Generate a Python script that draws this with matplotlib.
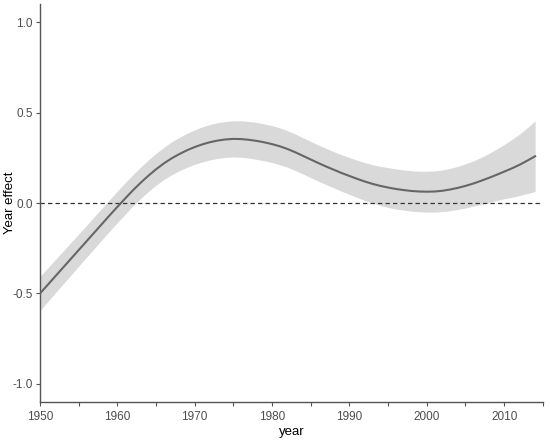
import matplotlib
matplotlib.use("Agg")
import matplotlib.pyplot as plt
from matplotlib.ticker import MultipleLocator

plt.rcParams['font.family'] = ['Liberation Sans', 'DejaVu Sans']

years = list(range(1950, 2015))
fit = [-0.500, -0.452, -0.404, -0.356, -0.308, -0.260, -0.212, -0.164, -0.116, -0.068,
       -0.021, 0.025, 0.070, 0.112, 0.151, 0.187, 0.219, 0.247, 0.271, 0.292,
       0.310, 0.325, 0.337, 0.346, 0.352, 0.355, 0.354, 0.350, 0.344, 0.336,
       0.326, 0.314, 0.299, 0.281, 0.261, 0.241, 0.221, 0.202, 0.184, 0.166,
       0.150, 0.134, 0.119, 0.106, 0.095, 0.086, 0.078, 0.072, 0.067, 0.064,
       0.063, 0.064, 0.068, 0.075, 0.084, 0.095, 0.108, 0.123, 0.139, 0.156,
       0.174, 0.192, 0.212, 0.235, 0.259]
lower = [-0.595, -0.545, -0.496, -0.447, -0.398, -0.349, -0.300, -0.252, -0.203, -0.155,
         -0.108, -0.062, -0.017, 0.025, 0.064, 0.099, 0.130, 0.156, 0.179, 0.198,
         0.215, 0.228, 0.239, 0.247, 0.253, 0.255, 0.253, 0.249, 0.242, 0.234,
         0.224, 0.212, 0.198, 0.180, 0.161, 0.141, 0.121, 0.102, 0.084, 0.065,
         0.048, 0.031, 0.014, 0.000, -0.013, -0.024, -0.033, -0.039, -0.045, -0.048,
         -0.050, -0.050, -0.047, -0.042, -0.035, -0.027, -0.017, -0.006, 0.004, 0.014,
         0.024, 0.032, 0.042, 0.053, 0.064]
upper = [-0.405, -0.359, -0.312, -0.265, -0.218, -0.171, -0.124, -0.076, -0.029, 0.019,
         0.066, 0.112, 0.157, 0.199, 0.238, 0.275, 0.308, 0.338, 0.363, 0.386,
         0.405, 0.422, 0.435, 0.445, 0.451, 0.455, 0.455, 0.451, 0.446, 0.438,
         0.428, 0.416, 0.400, 0.382, 0.361, 0.341, 0.321, 0.302, 0.284, 0.267,
         0.252, 0.237, 0.224, 0.212, 0.203, 0.196, 0.189, 0.183, 0.179, 0.176,
         0.176, 0.178, 0.183, 0.192, 0.203, 0.217, 0.233, 0.252, 0.274, 0.298,
         0.324, 0.352, 0.382, 0.417, 0.454]

x_ticks = [1950, 1960, 1970, 1980, 1990, 2000, 2010]
y_ticks = [-1.0, -0.5, 0.0, 0.5, 1.0]
y_labels = ['-1.0', '-0.5', '0.0', '0.5', '1.0']

fig = plt.figure(figsize=(5.5, 4.4), dpi=100)
ax = fig.add_axes([0.0727, 0.0864, 0.9143, 0.9041])

ax.fill_between(years, lower, upper, color='#d9d9d9', linewidth=0, zorder=1)
ax.plot(years, fit, color='#666666', linewidth=1.5, zorder=3)
ax.axhline(0, color='#333333', linestyle=(0, (3.5, 2.5)), linewidth=0.9, zorder=2)

ax.set_xlim(1950, 2015)
ax.set_ylim(-1.1, 1.1)
ax.set_xticks(x_ticks)
ax.xaxis.set_minor_locator(MultipleLocator(5))
ax.set_yticks(y_ticks)
ax.set_yticklabels(y_labels)

for s in ['top', 'right']:
    ax.spines[s].set_visible(False)
for s in ['left', 'bottom']:
    ax.spines[s].set_color('#555555')
    ax.spines[s].set_linewidth(1.0)

ax.tick_params(axis='both', which='both', direction='out', length=3, width=0.8,
               color='#555555', labelcolor='#4d4d4d', labelsize=8.5)
ax.tick_params(axis='x', which='both', pad=3.5)
ax.tick_params(axis='y', which='both', pad=2)

ax.set_xlabel('year', fontsize=9.5, color='black', labelpad=2.5)
ax.set_ylabel('Year effect', fontsize=9.5, color='black')
ax.yaxis.set_label_coords(-0.047, 0.5)

fig.savefig('out.png', dpi=100)
